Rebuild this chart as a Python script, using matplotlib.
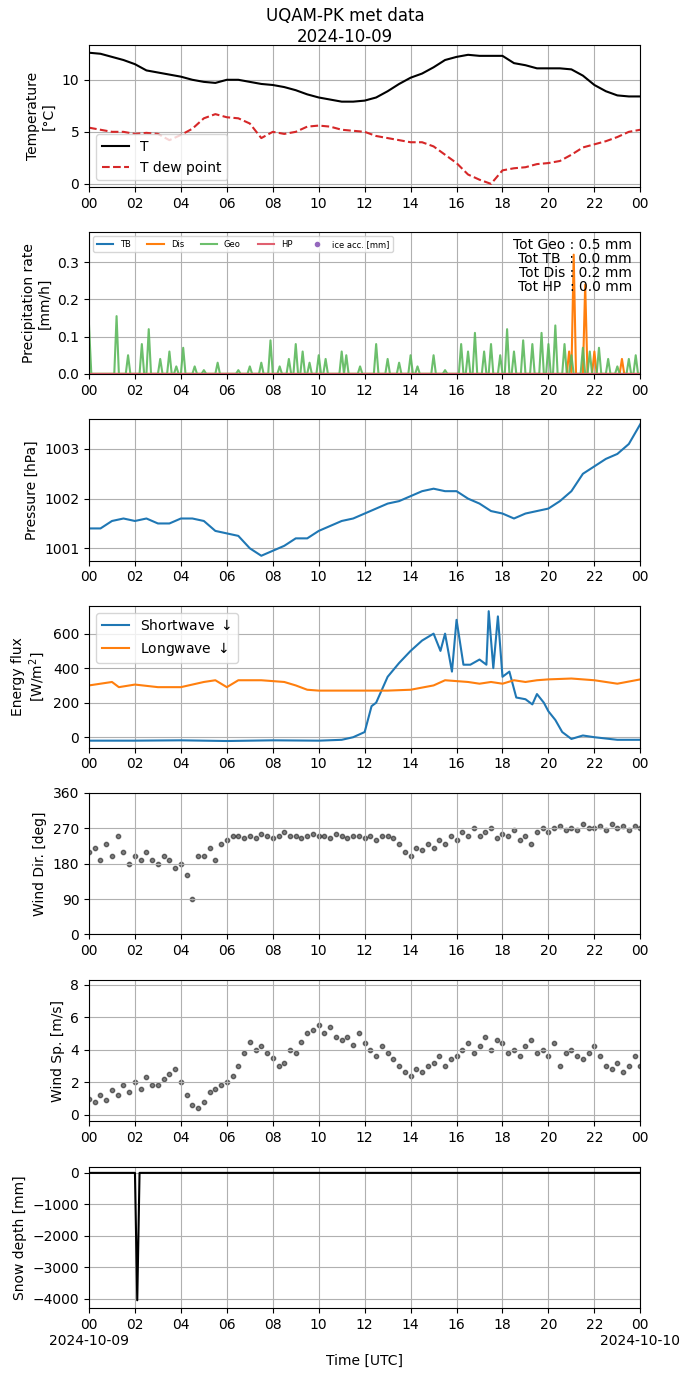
import numpy as np
import matplotlib
matplotlib.use("Agg")
import matplotlib.pyplot as plt
import matplotlib.dates as mdates
from matplotlib.lines import Line2D

base = np.datetime64('2024-10-09T00:00')

def to_time(hours):
    return base + (np.asarray(hours) * 60).astype(int).astype('timedelta64[m]')

# --- temperature, 30 min ---
t_half = np.arange(0, 24.01, 0.5)
temp = [12.6, 12.5, 12.2, 11.9, 11.5, 10.9, 10.7, 10.5, 10.3, 10.0, 9.8, 9.7, 10.0, 10.0, 9.8, 9.6,
        9.5, 9.3, 9.0, 8.6, 8.3, 8.1, 7.9, 7.9, 8.0, 8.3, 8.9, 9.6, 10.2, 10.6, 11.2, 11.9, 12.2, 12.4,
        12.3, 12.3, 12.3, 11.6, 11.4, 11.1, 11.1, 11.1, 11.0, 10.4, 9.5, 8.9, 8.5, 8.4, 8.4]
dew = [5.4, 5.2, 5.0, 5.0, 4.8, 4.9, 4.8, 4.2, 4.7, 5.3, 6.3, 6.7, 6.4, 6.3, 5.8, 4.4, 5.0, 4.8, 5.0,
       5.5, 5.6, 5.5, 5.2, 5.1, 5.0, 4.6, 4.4, 4.2, 4.0, 4.0, 3.6, 2.8, 2.0, 0.9, 0.4, 0.0, 1.3, 1.5,
       1.6, 1.9, 2.0, 2.2, 2.8, 3.5, 3.8, 4.1, 4.5, 5.0, 5.2]

# --- precipitation spikes (hour, mm/h) ---
geo_h = [0.0, 1.2, 1.7, 2.3, 2.6, 3.1, 3.5, 3.8, 4.1, 4.6, 5.0, 5.6, 6.5, 7.0, 7.5, 7.9, 8.3, 8.7, 9.0,
         9.3, 9.6, 10.0, 10.3, 11.0, 11.2, 11.8, 12.5, 13.0, 13.5, 14.0, 14.3, 15.0, 15.5, 16.2, 16.5,
         16.8, 17.2, 17.5, 17.9, 18.2, 18.5, 18.9, 19.3, 19.7, 20.0, 20.3, 20.7, 21.0, 21.5, 21.8,
         22.2, 22.6, 23.0, 23.5, 23.8]
geo_v = [0.13, 0.155, 0.05, 0.08, 0.12, 0.04, 0.06, 0.02, 0.07, 0.02, 0.01, 0.03, 0.01, 0.02, 0.03,
         0.09, 0.02, 0.04, 0.08, 0.06, 0.03, 0.05, 0.04, 0.06, 0.05, 0.02, 0.08, 0.04, 0.03, 0.05,
         0.02, 0.05, 0.01, 0.08, 0.06, 0.11, 0.06, 0.08, 0.05, 0.12, 0.06, 0.09, 0.08, 0.11, 0.08,
         0.13, 0.08, 0.05, 0.07, 0.06, 0.07, 0.04, 0.02, 0.04, 0.05]
dis_h = [20.9, 21.1, 21.6, 22.0, 23.2]
dis_v = [0.06, 0.32, 0.24, 0.06, 0.04]

# --- pressure, 30 min ---
pres = [1001.4, 1001.4, 1001.55, 1001.6, 1001.55, 1001.6, 1001.5, 1001.5, 1001.6, 1001.6, 1001.55,
        1001.35, 1001.3, 1001.25, 1001.0, 1000.85, 1000.95, 1001.05, 1001.2, 1001.2, 1001.35,
        1001.45, 1001.55, 1001.6, 1001.7, 1001.8, 1001.9, 1001.95, 1002.05, 1002.15, 1002.2,
        1002.15, 1002.15, 1002.0, 1001.9, 1001.75, 1001.7, 1001.6, 1001.7, 1001.75, 1001.8,
        1001.95, 1002.15, 1002.5, 1002.65, 1002.8, 1002.9, 1003.1, 1003.5]

# --- radiation ---
sw_h = [0, 2, 4, 6, 8, 10, 11, 11.5, 12, 12.3, 12.5, 13, 13.5, 14, 14.5, 15, 15.3, 15.5, 15.8, 16,
        16.3, 16.6, 17, 17.3, 17.4, 17.6, 17.8, 18, 18.3, 18.6, 19, 19.3, 19.5, 19.8, 20, 20.3, 20.6,
        21, 21.5, 22, 23, 24]
sw_v = [-20, -20, -18, -22, -18, -20, -15, 0, 30, 180, 200, 350, 430, 500, 560, 600, 500, 600, 380,
        680, 420, 420, 450, 420, 730, 400, 700, 350, 380, 230, 220, 190, 250, 200, 150, 100, 30,
        -10, 10, 0, -15, -15]
lw_h = [0, 1, 1.3, 2, 3, 4, 5, 5.5, 6, 6.5, 7.5, 8.5, 9, 9.5, 10, 13, 14, 15, 15.5, 16.5, 17, 17.5,
        18, 18.5, 19, 19.5, 20, 21, 22, 23, 24]
lw_v = [300, 320, 290, 305, 290, 290, 320, 330, 290, 330, 330, 320, 300, 275, 270, 270, 275, 300,
        330, 320, 310, 320, 310, 330, 320, 330, 335, 340, 330, 310, 335]

# --- wind, 15 min ---
t_q = np.arange(0, 24.01, 0.25)
wdir = [210, 220, 190, 230, 200, 250, 210, 180, 200, 190, 210, 190, 180, 200, 190, 170,
        180, 150, 90, 200, 200, 220, 190, 230, 240, 250, 250, 245, 250, 245, 255, 250,
        245, 250, 260, 250, 250, 245, 250, 255, 250, 250, 245, 255, 250, 245, 250, 250,
        245, 250, 240, 250, 250, 245, 230, 210, 200, 220, 215, 230, 220, 240, 230, 250,
        240, 260, 250, 270, 250, 260, 270, 245, 255, 250, 265, 240, 250, 230, 260, 270,
        260, 270, 275, 265, 270, 265, 280, 270, 270, 275, 265, 280, 270, 275, 265, 275, 270]
wspd = [1.0, 0.8, 1.2, 0.9, 1.5, 1.2, 1.8, 1.4, 2.0, 1.6, 2.3, 1.8, 1.8, 2.2, 2.5, 2.8,
        2.0, 1.2, 0.6, 0.4, 0.8, 1.4, 1.6, 1.8, 2.0, 2.4, 3.0, 3.8, 4.5, 4.0, 4.2, 3.8,
        3.5, 3.0, 3.2, 4.0, 3.8, 4.5, 5.0, 5.2, 5.5, 5.0, 5.4, 4.8, 4.6, 4.8, 4.3, 5.0,
        4.4, 4.0, 3.6, 4.2, 3.8, 3.4, 3.0, 2.6, 2.4, 2.8, 2.6, 3.0, 3.2, 3.6, 3.0, 3.4,
        3.6, 4.0, 4.4, 3.8, 4.2, 4.8, 4.0, 4.6, 4.4, 3.8, 4.0, 3.6, 4.2, 4.6, 3.8, 4.0,
        3.6, 4.4, 3.0, 3.8, 4.0, 3.6, 3.4, 3.8, 4.2, 3.6, 3.0, 2.8, 3.2, 2.6, 3.0, 3.6, 3.0]

# --- snow depth ---
snow_h = [0, 2.0, 2.1, 2.2, 24]
snow_v = [0, 0, -4050, 0, 0]

grid10 = np.arange(0, 24.01, 0.1)
geo = np.zeros_like(grid10)
geo[np.round(np.array(geo_h) * 10).astype(int)] = geo_v
dis = np.zeros_like(grid10)
dis[np.round(np.array(dis_h) * 10).astype(int)] = dis_v

fig, axs = plt.subplots(7, 1, figsize=(6.9, 13.77), dpi=100)
fig.subplots_adjust(left=0.129, right=0.928, top=0.967, bottom=0.05, hspace=0.32)
fig.suptitle('UQAM-PK met data\n2024-10-09', y=0.995, fontsize=12)

ax = axs[0]
ax.plot(to_time(t_half), temp, 'k-', label='T')
ax.plot(to_time(t_half), dew, '--', color='tab:red', label='T dew point')
ax.set_ylim(-0.3, 13.3)
ax.set_ylabel('Temperature\n[°C]')
ax.legend(loc='lower left')

ax = axs[1]
ax.plot(to_time(grid10), np.zeros_like(grid10), color='tab:blue', label='TB')
ax.plot(to_time(grid10), dis, color='tab:orange', label='Dis')
ax.plot(to_time(grid10), geo, color='#5cb85c', alpha=0.9, label='Geo')
ax.plot(to_time(grid10), np.zeros_like(grid10), color='#e06070', label='HP')
ax.set_ylim(0, 0.38)
ax.set_ylabel('Precipitation rate\n[mm/h]')
h, l = ax.get_legend_handles_labels()
h.append(Line2D([], [], ls='', marker='o', ms=3, color='tab:purple'))
l.append('ice acc. [mm]')
ax.legend(h, l, ncol=5, fontsize=6, loc='upper left')
ax.text(0.985, 0.96, 'Tot Geo : 0.5 mm\nTot TB  : 0.0 mm\nTot Dis : 0.2 mm\nTot HP  : 0.0 mm',
        transform=ax.transAxes, ha='right', va='top', fontsize=10, linespacing=1.0)

ax = axs[2]
ax.plot(to_time(t_half), pres, color='tab:blue')
ax.set_ylim(1000.75, 1003.6)
ax.set_yticks([1001, 1002, 1003])
ax.set_ylabel('Pressure [hPa]')

ax = axs[3]
ax.plot(to_time(sw_h), sw_v, color='tab:blue', label='Shortwave $\\downarrow$')
ax.plot(to_time(lw_h), lw_v, color='tab:orange', label='Longwave $\\downarrow$')
ax.set_ylim(-60, 760)
ax.set_ylabel('Energy flux\n[W/m$^2$]')
ax.legend(loc='upper left')

ax = axs[4]
ax.scatter(to_time(t_q), wdir, s=10, color='k', alpha=0.5)
ax.set_ylim(0, 360)
ax.set_yticks([0, 90, 180, 270, 360])
ax.set_ylabel('Wind Dir. [deg]')

ax = axs[5]
ax.scatter(to_time(t_q), wspd, s=10, color='k', alpha=0.5)
ax.set_ylim(-0.4, 8.3)
ax.set_yticks([0, 2, 4, 6, 8])
ax.set_ylabel('Wind Sp. [m/s]')

ax = axs[6]
ax.plot(to_time(snow_h), snow_v, 'k-')
ax.set_ylim(-4300, 200)
ax.set_ylabel('Snow depth [mm]')
ax.set_xlabel('Time [UTC]')

for ax in axs:
    ax.set_xlim(base, base + np.timedelta64(24, 'h'))
    ax.xaxis.set_major_locator(mdates.HourLocator(byhour=range(0, 24, 2)))
    ax.xaxis.set_major_formatter(mdates.DateFormatter('%H'))
    ax.grid(True)

ticks = axs[6].get_xticks()
labels = ['%02d' % (2 * i % 24) for i in range(len(ticks))]
labels[0] = '00\n2024-10-09'
labels[-1] = '00\n2024-10-10'
axs[6].set_xticks(ticks)
axs[6].set_xticklabels(labels)

fig.savefig('out.png')
